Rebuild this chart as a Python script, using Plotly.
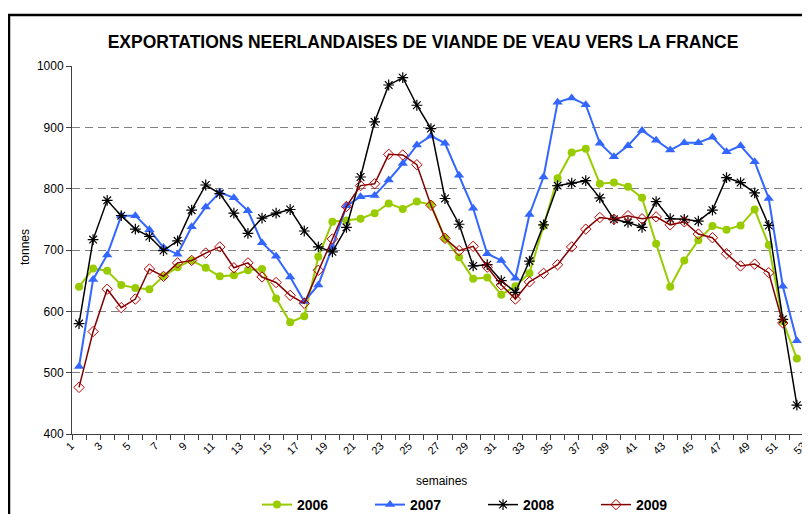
import plotly.graph_objects as go

weeks = list(range(1, 54))
week_tick_labels = [str(w) for w in range(1, 54, 2)]

exp_2006 = [640, 670, 666, 643, 638, 636, 657, 672, 683, 671, 657, 659, 667,
            669, 621, 582, 592, 689, 746, 748, 751, 760, 776, 767, 779, 774,
            719, 688, 653, 655, 627, 641, 662, 739, 817, 859, 865, 808, 810,
            803, 785, 710, 640, 683, 716, 739, 733, 740, 766, 708, 584, 523]
exp_2007 = [510, 652, 692, 756, 756, 733, 704, 693, 738, 770, 794, 785, 764,
            712, 690, 656, 616, 643, 705, 772, 787, 789, 814, 841, 871, 886,
            874, 822, 768, 694, 683, 654, 758, 819, 941, 948, 937, 874, 852,
            870, 895, 879, 863, 875, 875, 884, 860, 870, 844, 784, 641, 552]
exp_2008 = [580, 717, 781, 756, 734, 722, 699, 715, 765, 806, 792, 760, 727,
            752, 760, 766, 731, 705, 697, 737, 819, 909, 969, 981, 936, 898,
            784, 742, 674, 676, 650, 631, 682, 741, 805, 809, 813, 785, 750,
            745, 737, 779, 751, 750, 747, 765, 818, 810, 793, 740, 587, 447]
exp_2009 = [476, 567, 636, 606, 620, 669, 657, 679, 683, 695, 705, 671, 679,
            656, 647, 626, 613, 667, 718, 771, 805, 808, 856, 855, 839, 773,
            719, 699, 706, 672, 643, 620, 648, 662, 676, 705, 734, 753, 750,
            756, 751, 754, 741, 746, 726, 720, 694, 674, 677, 663, 581]

# the page body adds an 8px offset, so layout is given in page pixels minus 8
OFF = 8
W, H = 810, 514
L, T = 72 - OFF, 66 - OFF          # plot area: page x 72..810, y 66..434
R = 0
B = H - (434 - OFF)
pw, ph = W - L - R, H - T - B


def px(x):
    return (x - OFF - L) / pw


def py(y):
    return (H - B - (y - OFF)) / ph


fig = go.Figure()

fig.add_trace(go.Scatter(
    x=weeks[:len(exp_2006)], y=exp_2006, name="2006", mode="lines+markers",
    line=dict(color="#99CC00", width=2),
    marker=dict(symbol="circle", size=8, color="#99CC00")))
fig.add_trace(go.Scatter(
    x=weeks[:len(exp_2007)], y=exp_2007, name="2007", mode="lines+markers",
    line=dict(color="#3366FF", width=2),
    marker=dict(symbol="triangle-up", size=9, color="#3366FF")))
fig.add_trace(go.Scatter(
    x=weeks[:len(exp_2008)], y=exp_2008, name="2008", mode="lines+markers",
    line=dict(color="#000000", width=1.5),
    marker=dict(symbol="asterisk-open", size=9,
                line=dict(color="#000000", width=1.2))))
fig.add_trace(go.Scatter(
    x=weeks[:len(exp_2009)], y=exp_2009, name="2009", mode="lines+markers",
    line=dict(color="#800000", width=1.5),
    marker=dict(symbol="diamond-open", size=8, color="#C00000",
                line=dict(color="#C00000", width=1))))

# chart frame (right and bottom edges fall outside the picture)
fig.add_shape(type="rect", xref="paper", yref="paper",
              x0=px(9), x1=1.1, y0=-0.6, y1=py(15),
              line=dict(color="black", width=2.5), layer="below")

fig.add_annotation(text="semaines", xref="paper", yref="paper",
                   x=px(441), y=py(481), xanchor="center", yanchor="middle",
                   showarrow=False, font=dict(size=12, color="black"))
fig.add_annotation(text="tonnes", xref="paper", yref="paper",
                   x=px(25), y=py(247), xanchor="center", yanchor="middle",
                   showarrow=False, textangle=-90,
                   font=dict(size=12, color="black"))

fig.update_layout(
    width=W, height=H,
    margin=dict(l=L, r=R, t=T, b=B, autoexpand=False),
    paper_bgcolor="white", plot_bgcolor="white",
    font=dict(family="Liberation Sans, Arial, sans-serif", color="black"),
    title=dict(text="EXPORTATIONS NEERLANDAISES DE VIANDE DE VEAU VERS LA FRANCE",
               x=(423 - OFF) / W, xanchor="center",
               y=1 - (42 - OFF) / H, yanchor="middle",
               font=dict(size=17.5, weight="bold", color="black")),
    showlegend=True,
    legend=dict(orientation="h", x=px(483), xanchor="center",
                y=py(505), yanchor="middle",
                font=dict(size=14, weight="bold", color="black"),
                itemwidth=30, entrywidth=68, entrywidthmode="pixels",
                bgcolor="rgba(0,0,0,0)"),
    xaxis=dict(range=[0.5, 53.5], tickmode="array",
               tickvals=list(range(1, 54, 2)), ticktext=week_tick_labels,
               tickangle=-45, ticks="", tickfont=dict(size=11),
               ticklabelshift=-8, automargin=False,
               showgrid=False, zeroline=False,
               showline=True, linecolor="#404040", linewidth=1,
               minor=dict(tickmode="linear", tick0=0.5, dtick=1,
                          ticks="outside", ticklen=5, tickcolor="#404040",
                          showgrid=False)),
    yaxis=dict(range=[400, 1000], dtick=100, tickfont=dict(size=12),
               ticks="outside", ticklen=5, tickcolor="#404040",
               automargin=False,
               showline=True, linecolor="#404040", linewidth=1,
               showgrid=True, gridcolor="#808080", griddash="8px,5px",
               gridwidth=1, zeroline=False),
)

fig.write_html("out.html")
